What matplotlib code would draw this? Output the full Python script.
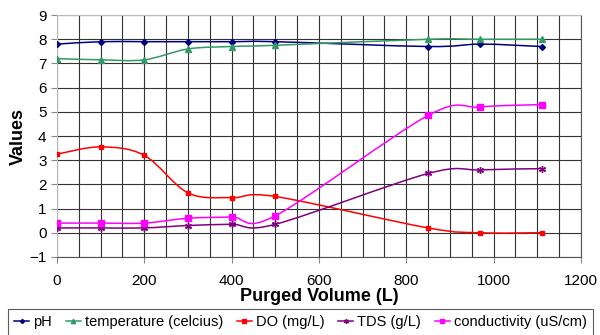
import numpy as np
import matplotlib.pyplot as plt
from matplotlib.path import Path
from matplotlib.patches import PathPatch
from matplotlib.lines import Line2D

plt.rcParams['font.family'] = ['Liberation Sans', 'DejaVu Sans']

volume = [0, 100, 200, 300, 400, 500, 850, 970, 1110]
ph = [7.8, 7.9, 7.9, 7.9, 7.9, 7.9, 7.7, 7.8, 7.7]
temperature = [7.2, 7.15, 7.15, 7.6, 7.7, 7.75, 8.0, 8.0, 8.0]
do = [3.25, 3.55, 3.2, 1.65, 1.45, 1.5, 0.2, 0.0, 0.0]
tds = [0.2, 0.2, 0.2, 0.3, 0.35, 0.35, 2.45, 2.6, 2.65]
conductivity = [0.4, 0.4, 0.4, 0.6, 0.65, 0.7, 4.85, 5.2, 5.3]

series = [
    ("pH", ph, "#000080", "D", 3),
    ("temperature (celcius)", temperature, "#339966", "^", 4.5),
    ("DO (mg/L)", do, "#FF0000", "s", 3.5),
    ("TDS (g/L)", tds, "#800080", (6, 2, 0), 5),
    ("conductivity (uS/cm)", conductivity, "#FF00FF", "s", 4.5),
]


def smooth_path(x, y):
    # excel-style smoothed line: cubic bezier through the points
    p = np.column_stack([x, y]).astype(float)
    n = len(p)
    verts = [p[0]]
    codes = [Path.MOVETO]
    for i in range(n - 1):
        p0 = p[i - 1] if i > 0 else p[i]
        p3 = p[i + 2] if i + 2 < n else p[i + 1]
        c1 = p[i] + (p[i + 1] - p0) / 6
        c2 = p[i + 1] - (p3 - p[i]) / 6
        verts += [c1, c2, p[i + 1]]
        codes += [Path.CURVE4] * 3
    return Path(verts, codes)


fig = plt.figure(figsize=(6, 3.35), dpi=100)
ax = fig.add_axes([0.095, 0.233, 0.873, 0.722])

handles = []
for name, vals, col, mk, ms in series:
    ax.add_patch(PathPatch(smooth_path(volume, vals), fill=False, edgecolor=col, lw=1.1, zorder=3))
    ax.plot(volume, vals, ls="none", marker=mk, color=col, mec=col, ms=ms, mew=1, zorder=4)
    handles.append(Line2D([], [], color=col, marker=mk, mec=col, ms=ms * 0.7, mew=1, lw=1.1, label=name))

ax.set_xlim(0, 1200)
ax.set_ylim(-1, 9)
ax.set_xticks(range(0, 1201, 200))
ax.set_xticks(range(0, 1201, 50), minor=True)
ax.set_yticks(range(-1, 10))
ax.grid(True, which="both", color="#333333", lw=0.8)
ax.set_axisbelow(True)
ax.tick_params(axis="x", which="minor", length=0)
ax.tick_params(labelsize=11, length=4, color="#888888")
ax.tick_params(axis="x", pad=8)
for s in ["top", "left"]:
    ax.spines[s].set_color("#bbbbbb")
for s in ["right", "bottom"]:
    ax.spines[s].set_color("#555555")

ax.set_xlabel("Purged Volume (L)", fontsize=13, fontweight="bold", labelpad=0)
ax.set_ylabel("Values", fontsize=13, fontweight="bold", labelpad=2)

leg = fig.legend(handles=handles, loc="upper left", bbox_to_anchor=(0.013, 0.078), ncol=5,
                 fontsize=10.5, frameon=True, fancybox=False, handlelength=1.0,
                 handletextpad=0.3, columnspacing=0.95, borderpad=0.45, borderaxespad=0)
leg.get_frame().set_edgecolor("#333333")
leg.get_frame().set_linewidth(0.8)

fig.savefig("out.png", dpi=100)
